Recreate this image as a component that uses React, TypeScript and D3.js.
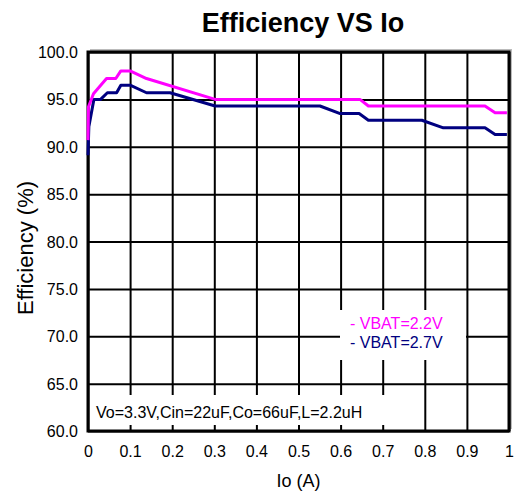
import React, { useEffect, useRef } from "react";
import * as d3 from "d3";

const xTicks = [0, 0.1, 0.2, 0.3, 0.4, 0.5, 0.6, 0.7, 0.8, 0.9, 1];
const xTickLabels = ["0", "0.1", "0.2", "0.3", "0.4", "0.5", "0.6", "0.7", "0.8", "0.9", "1"];
const yTicks = [60, 65, 70, 75, 80, 85, 90, 95, 100];

const io22 = [0, 0.001, 0.013, 0.044, 0.066, 0.078, 0.1, 0.139, 0.302, 0.646, 0.666, 0.943, 0.967, 0.995];
const eff22 = [90.7, 94.2, 95.6, 97.2, 97.2, 98.0, 98.0, 97.2, 95.0, 95.0, 94.3, 94.3, 93.6, 93.6];

const io27 = [0, 0.002, 0.014, 0.03, 0.046, 0.068, 0.078, 0.1, 0.139, 0.195, 0.302, 0.551, 0.599, 0.644, 0.666, 0.793, 0.844, 0.943, 0.967, 0.995];
const eff27 = [89.1, 92.1, 95.0, 95.0, 95.7, 95.7, 96.5, 96.5, 95.7, 95.7, 94.3, 94.3, 93.5, 93.5, 92.8, 92.8, 92.0, 92.0, 91.3, 91.3];

const seriesNames = ["- VBAT=2.2V", "- VBAT=2.7V"];
const seriesColors = ["#FF00FF", "#000080"];

const W = 514, H = 497;
const L = 88, R = 509, T = 52, B = 431;
const font = "'Liberation Sans', Arial, sans-serif";

export default function App() {
  const ref = useRef<SVGSVGElement>(null);
  useEffect(() => {
    const svg = d3.select(ref.current);
    svg.selectAll("*").remove();
    const x = d3.scaleLinear().domain([0, 1]).range([L, R]);
    const y = d3.scaleLinear().domain([60, 100]).range([B, T]);

    svg.append("rect").attr("width", W).attr("height", H).attr("fill", "#fff");
    svg.append("text").attr("x", 303).attr("y", 32).attr("text-anchor", "middle")
      .attr("font-size", 27).attr("font-weight", "bold").text("Efficiency VS Io");
    svg.append("path").attr("d", `M${L + 2},${T - 2}H${R + 2}V${B - 2}`)
      .attr("fill", "none").attr("stroke", "#bbb").attr("stroke-width", 2);

    const gx = svg.append("g").attr("transform", `translate(0,${B})`)
      .call(d3.axisBottom(x).tickValues(xTicks).tickSize(-(B - T)).tickFormat((_, i) => xTickLabels[i]));
    gx.select(".domain").remove();
    gx.selectAll("line").attr("stroke", "#000").attr("stroke-width", 2);
    gx.selectAll("text").attr("font-size", 16).attr("font-family", font).attr("fill", "#000").attr("y", 26).attr("dy", "0");

    const gy = svg.append("g").attr("transform", `translate(${L},0)`)
      .call(d3.axisLeft(y).tickValues(yTicks).tickSize(-(R - L)).tickFormat(d => (d as number).toFixed(1)));
    gy.select(".domain").remove();
    gy.selectAll("line").attr("stroke", "#000").attr("stroke-width", 2);
    gy.selectAll("text").attr("font-size", 16).attr("font-family", font).attr("fill", "#000").attr("x", -10).attr("dy", "0.35em");

    svg.append("rect").attr("x", L + 3).attr("y", 395).attr("width", 422 - L - 3).attr("height", 30).attr("fill", "#fff");
    svg.append("text").attr("x", 96).attr("y", 418).attr("font-size", 16).text("Vo=3.3V,Cin=22uF,Co=66uF,L=2.2uH");

    svg.append("rect").attr("x", 340).attr("y", 310).attr("width", 126).attr("height", 50).attr("fill", "#fff");
    seriesNames.forEach((n, i) => {
      svg.append("text").attr("x", 350).attr("y", 329 + i * 19).attr("font-size", 16)
        .attr("fill", seriesColors[i]).text(n);
    });

    svg.append("rect").attr("x", L).attr("y", T).attr("width", R - L).attr("height", B - T)
      .attr("fill", "none").attr("stroke", "#000").attr("stroke-width", 3);

    const line = d3.line<[number, number]>().x(d => x(d[0])).y(d => y(d[1]));
    svg.append("path").attr("d", line(io27.map((v, i) => [v, eff27[i]] as [number, number])))
      .attr("fill", "none").attr("stroke", seriesColors[1]).attr("stroke-width", 3).attr("stroke-linejoin", "round");
    svg.append("path").attr("d", line(io22.map((v, i) => [v, eff22[i]] as [number, number])))
      .attr("fill", "none").attr("stroke", seriesColors[0]).attr("stroke-width", 3).attr("stroke-linejoin", "round");

    svg.append("text").attr("x", (L + R) / 2).attr("y", 487).attr("text-anchor", "middle")
      .attr("font-size", 18).text("Io (A)");
    svg.append("text").attr("transform", "translate(33,248) rotate(-90)").attr("text-anchor", "middle")
      .attr("font-size", 22).text("Efficiency (%)");
  }, []);

  return (
    <svg ref={ref} width={W} height={H} style={{ position: "absolute", left: 0, top: 0 }} fontFamily={font} />
  );
}
